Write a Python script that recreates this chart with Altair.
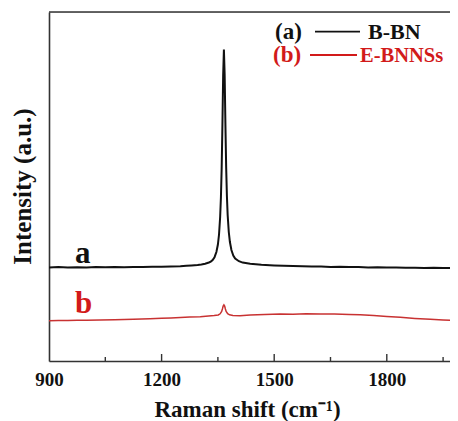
import altair as alt
import pandas as pd

# ---- data (intensity in arbitrary units) ----
black_x = [900, 925, 950, 975, 1000, 1025, 1050, 1075, 1100, 1125, 1150, 1175, 1200, 1225,
           1250, 1266, 1280, 1296, 1306, 1316, 1326, 1331, 1336, 1341, 1346, 1350, 1353, 1356,
           1358, 1360, 1362, 1364, 1366, 1368, 1370, 1372, 1374, 1376, 1379, 1382, 1386, 1391,
           1396, 1406, 1416, 1436, 1466, 1500, 1525, 1550, 1575, 1600, 1625, 1650, 1675, 1700,
           1725, 1750, 1775, 1800, 1825, 1850, 1875, 1900, 1925, 1950, 1975, 1990]
black_y = [93.6, 93.9, 93.5, 93.8, 93.6, 93.9, 93.7, 94.0, 93.8, 94.1, 94.0, 94.3, 94.2, 94.6,
           94.8, 95.2, 95.6, 96.1, 96.6, 97.3, 98.5, 99.4, 101.0, 103.8, 109.0, 116.5, 126.5, 144.0,
           163.0, 192.0, 235.0, 285.0, 311.5, 286.0, 237.0, 194.0, 165.0, 146.0, 129.0, 119.0, 111.0, 105.5,
           102.5, 99.8, 98.4, 97.2, 96.3, 95.6, 95.2, 94.9, 94.8, 94.4, 94.5, 94.1, 94.2, 93.9,
           93.9, 93.6, 93.7, 93.4, 93.5, 93.2, 93.3, 93.1, 93.2, 92.9, 93.0, 92.8]

red_x = [900, 925, 950, 975, 1000, 1036, 1075, 1100, 1125, 1169, 1200, 1225, 1250, 1275, 1303,
         1325, 1340, 1351, 1356, 1360, 1362, 1364, 1366, 1368, 1370, 1372, 1376, 1381, 1390, 1409,
         1436, 1475, 1516, 1550, 1585, 1623, 1660, 1700, 1729, 1765, 1800, 1836, 1875, 1916, 1950, 1990]
red_y = [40.3, 40.6, 40.4, 40.8, 40.7, 41.0, 41.2, 41.5, 41.7, 42.3, 42.8, 43.1, 43.6, 43.9, 44.3,
         44.9, 45.4, 46.0, 47.2, 49.5, 52.0, 55.0, 56.2, 55.0, 52.0, 49.6, 47.3, 46.2, 45.6, 45.3,
         46.0, 46.5, 47.0, 46.8, 47.2, 47.0, 46.9, 46.6, 46.3, 45.4, 44.6, 43.7, 42.6, 41.7, 41.0, 40.3]

x_labels = [900, 1200, 1500, 1800]
major_ticks = [1200, 1500, 1800]
minor_ticks = [1050, 1350, 1650, 1950]

W, H = 401, 349
FONT = "Liberation Serif"
RED_TEXT = "#d21a1a"
RED_LINE = "#c83232"

xs = alt.Scale(domain=[900, 1968.4], nice=False, zero=False)
ys = alt.Scale(domain=[0, 349], nice=False, zero=False)

df_b = pd.DataFrame({"shift": black_x, "inten": black_y})
df_r = pd.DataFrame({"shift": red_x, "inten": red_y})

base_x = alt.X("shift:Q", scale=xs, axis=alt.Axis(
    values=x_labels, format="d", title="Raman shift (cm⁻¹)", grid=False, ticks=False, tickSize=0,
    labelFlush=False, labelOverlap=False, labelPadding=9, labelFont=FONT, labelFontWeight="bold",
    labelFontSize=19, labelColor="#111",
    domainColor="#333", domainWidth=1.6,
    titleFont=FONT, titleFontWeight="bold", titleFontSize=23, titleColor="#111",
    titleX=198, titleY=55.5, titleBaseline="alphabetic"))
base_y = alt.Y("inten:Q", scale=ys, axis=alt.Axis(
    labels=False, ticks=False, grid=False, domainColor="#333", domainWidth=1.6,
    title="Intensity (a.u.)", titleFont=FONT, titleFontWeight="bold", titleFontSize=25,
    titleColor="#111", titleX=-19, titleY=174, titleBaseline="alphabetic", titleAngle=270))

line_b = alt.Chart(df_b).mark_line(color="#111", strokeWidth=2, clip=True).encode(x=base_x, y=base_y)
line_r = alt.Chart(df_r).mark_line(color=RED_LINE, strokeWidth=1.5, clip=True).encode(
    x=alt.X("shift:Q", scale=xs), y=alt.Y("inten:Q", scale=ys))

ticks_major = alt.Chart(pd.DataFrame({"t": major_ticks})).mark_rule(color="#333", strokeWidth=1.4).encode(
    x=alt.X("t:Q", scale=xs), y=alt.value(H), y2=alt.value(H - 7))
ticks_minor = alt.Chart(pd.DataFrame({"t": minor_ticks})).mark_rule(color="#333", strokeWidth=1.4).encode(
    x=alt.X("t:Q", scale=xs), y=alt.value(H), y2=alt.value(H - 4))

top_border = alt.Chart(pd.DataFrame({"k": [0]})).mark_rule(color="#333", strokeWidth=1.6).encode(
    x=alt.value(0), x2=alt.value(W), y=alt.value(0))


def label(txt, x, y, size, color):
    return alt.Chart(pd.DataFrame({"t": [txt]})).mark_text(
        font=FONT, fontWeight="bold", fontSize=size, color=color, align="left", baseline="alphabetic"
    ).encode(text="t:N", x=alt.value(x), y=alt.value(y))


def seg(x1, x2, y, color):
    return alt.Chart(pd.DataFrame({"k": [0]})).mark_rule(color=color, strokeWidth=1.8).encode(
        x=alt.value(x1), x2=alt.value(x2), y=alt.value(y))


annotations = [
    label("(a)", 226, 26.5, 23, "#111"),
    seg(266, 311, 19.7, "#111"),
    label("B-BN", 319, 27, 22, "#111"),
    label("(b)", 224, 49.5, 23, RED_TEXT),
    seg(261, 308, 43, RED_TEXT),
    label("E-BNNSs", 311, 50, 20.5, RED_TEXT),
    label("a", 26, 251.3, 31, "#111"),
    label("b", 26, 301.3, 31, RED_TEXT),
]

chart = alt.layer(line_b, line_r, ticks_major, ticks_minor, top_border, *annotations).properties(
    width=W, height=H,
    padding={"left": 41, "top": 4, "right": 0, "bottom": 60},
    autosize=alt.AutoSizeParams(type="none"),
).configure_view(stroke=None).configure(background="white")

chart.save("out.html", embed_options={"renderer": "svg", "actions": False})
